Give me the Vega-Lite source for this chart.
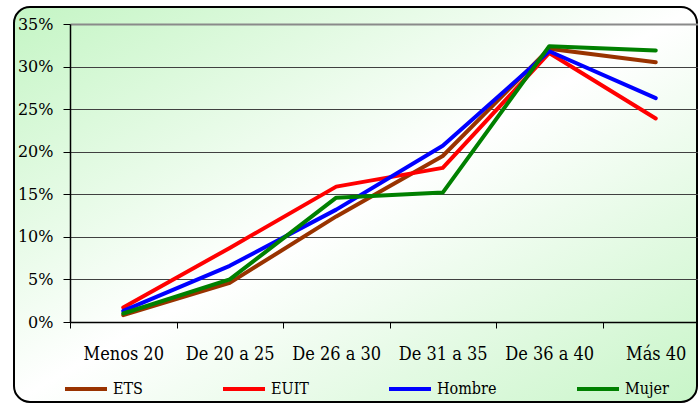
{
  "$schema": "https://vega.github.io/schema/vega-lite/v6.json",
  "width": 683,
  "height": 395,
  "autosize": {"type": "none"},
  "padding": {"left": 14, "top": 7, "right": 1, "bottom": 2},
  "background": "#ffffff",
  "view": {
    "fill": {
      "gradient": "linear",
      "x1": 0, "y1": 0, "x2": 1, "y2": 1,
      "stops": [
        {"offset": 0, "color": "#c4f5c4"},
        {"offset": 0.5, "color": "#ffffff"},
        {"offset": 1, "color": "#c8f5c8"}
      ]
    },
    "stroke": "#000000",
    "strokeWidth": 2,
    "cornerRadius": 16
  },
  "data": {
    "values": [
      {"edad": "Menos 20", "serie": "ETS", "pct": 0.008},
      {"edad": "De 20 a 25", "serie": "ETS", "pct": 0.046},
      {"edad": "De 26 a 30", "serie": "ETS", "pct": 0.124},
      {"edad": "De 31 a 35", "serie": "ETS", "pct": 0.195},
      {"edad": "De 36 a 40", "serie": "ETS", "pct": 0.321},
      {"edad": "Más 40", "serie": "ETS", "pct": 0.305},
      {"edad": "Menos 20", "serie": "EUIT", "pct": 0.017},
      {"edad": "De 20 a 25", "serie": "EUIT", "pct": 0.087},
      {"edad": "De 26 a 30", "serie": "EUIT", "pct": 0.159},
      {"edad": "De 31 a 35", "serie": "EUIT", "pct": 0.181},
      {"edad": "De 36 a 40", "serie": "EUIT", "pct": 0.316},
      {"edad": "Más 40", "serie": "EUIT", "pct": 0.239},
      {"edad": "Menos 20", "serie": "Hombre", "pct": 0.013},
      {"edad": "De 20 a 25", "serie": "Hombre", "pct": 0.066},
      {"edad": "De 26 a 30", "serie": "Hombre", "pct": 0.132},
      {"edad": "De 31 a 35", "serie": "Hombre", "pct": 0.207},
      {"edad": "De 36 a 40", "serie": "Hombre", "pct": 0.318},
      {"edad": "Más 40", "serie": "Hombre", "pct": 0.263},
      {"edad": "Menos 20", "serie": "Mujer", "pct": 0.010},
      {"edad": "De 20 a 25", "serie": "Mujer", "pct": 0.050},
      {"edad": "De 26 a 30", "serie": "Mujer", "pct": 0.146},
      {"edad": "De 31 a 35", "serie": "Mujer", "pct": 0.152},
      {"edad": "De 36 a 40", "serie": "Mujer", "pct": 0.324},
      {"edad": "Más 40", "serie": "Mujer", "pct": 0.319}
    ]
  },
  "mark": {"type": "line", "strokeWidth": 4, "strokeJoin": "round", "strokeCap": "round"},
  "encoding": {
    "x": {
      "field": "edad",
      "type": "nominal",
      "sort": ["Menos 20", "De 20 a 25", "De 26 a 30", "De 31 a 35", "De 36 a 40", "Más 40"],
      "scale": {"type": "band", "range": [56, 695], "paddingInner": 0, "paddingOuter": 0},
      "axis": {
        "title": null,
        "offset": -80,
        "grid": false,
        "tickBand": "extent",
        "tickSize": 6,
        "tickColor": "#000000",
        "domainColor": "#000000",
        "domainWidth": 1.5,
        "labelAngle": 0,
        "labelFont": "DejaVu Serif Condensed",
        "labelFontSize": 18,
        "labelColor": "#000000",
        "labelPadding": 17
      }
    },
    "y": {
      "field": "pct",
      "type": "quantitative",
      "scale": {"domain": [0, 0.35], "range": [315, 17], "nice": false, "zero": true},
      "axis": {
        "title": null,
        "offset": -56,
        "values": [0, 0.05, 0.1, 0.15, 0.2, 0.25, 0.3, 0.35],
        "format": ".0%",
        "grid": true,
        "gridColor": {"condition": {"test": "datum.value >= 0.349", "value": "#8a8a8a"}, "value": "#404040"},
        "gridWidth": {"condition": {"test": "datum.value >= 0.349", "value": 2}, "value": 1},
        "tickSize": 7,
        "tickColor": "#000000",
        "domainColor": "#000000",
        "domainWidth": 1.5,
        "labelFont": "DejaVu Serif",
        "labelFontSize": 16,
        "labelColor": "#000000",
        "labelPadding": 10
      }
    },
    "color": {
      "field": "serie",
      "type": "nominal",
      "scale": {
        "domain": ["ETS", "EUIT", "Hombre", "Mujer"],
        "range": ["#993300", "#ff0000", "#0000ff", "#008000"]
      },
      "legend": {
        "title": null,
        "orient": "none",
        "legendX": 49,
        "legendY": 359,
        "direction": "horizontal",
        "symbolType": "stroke",
        "symbolSize": 1764,
        "symbolStrokeWidth": 4,
        "labelFont": "DejaVu Serif Condensed",
        "labelFontSize": 16,
        "labelColor": "#000000",
        "labelOffset": 4,
        "columnPadding": 72,
        "padding": 0
      }
    }
  }
}
